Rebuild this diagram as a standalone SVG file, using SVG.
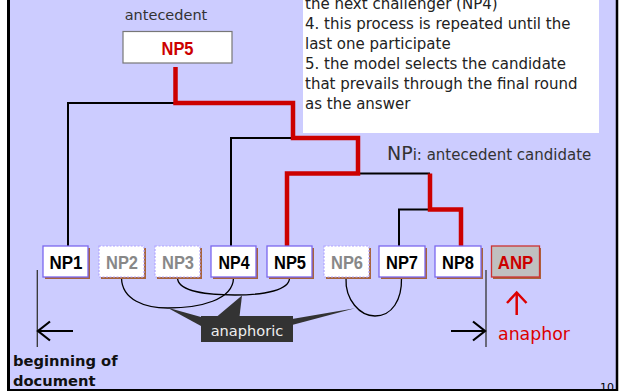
<svg xmlns="http://www.w3.org/2000/svg" width="625" height="391" viewBox="0 0 625 391">
<style>
.t{font-family:"DejaVu Sans",Verdana,sans-serif;}
.np{font-family:"Liberation Sans",Arial,sans-serif;font-size:18px;font-weight:bold;text-anchor:middle;}
.box{fill:#fff;stroke:#7b68ee;stroke-width:1.3;}
.gbox{fill:#fff;stroke:#b0a4ff;stroke-width:1.2;stroke-dasharray:2 1.5;}
.sh{fill:#a8643c;}
.blk{fill:none;stroke:#000;stroke-width:2;}
.red{fill:none;stroke:#cc0000;stroke-width:4.5;stroke-linejoin:miter;}
.arc{fill:none;stroke:#000;stroke-width:1.3;}
</style>
<rect x="0" y="0" width="625" height="391" fill="#fff"/>
<rect x="9" y="0" width="608" height="390" fill="#ccccff"/>
<line x1="8.5" y1="0" x2="8.5" y2="391" stroke="#000" stroke-width="3"/>
<line x1="617" y1="0" x2="617" y2="391" stroke="#000" stroke-width="2.5"/>
<line x1="7" y1="390" x2="618" y2="390" stroke="#000" stroke-width="2"/>

<g id="notes">
<rect x="303" y="-2" width="296" height="135" fill="#fff"/>
<text class="t" font-size="15" fill="#222">
<tspan x="305" y="9.3">the next challenger (NP4)</tspan>
<tspan x="305" y="29.3">4. this process is repeated until the</tspan>
<tspan x="305" y="49.3">last one participate</tspan>
<tspan x="305" y="69.3">5. the model selects the candidate</tspan>
<tspan x="305" y="89.3">that prevails through the final round</tspan>
<tspan x="305" y="109.3">as the answer</tspan>
</text>
</g>

<g id="antecedent">
<text class="t" x="166" y="20" font-size="14.5" fill="#333" text-anchor="middle">antecedent</text>
<rect x="123" y="31.5" width="109" height="31.5" fill="#fff" stroke="#777" stroke-width="1.2"/>
<text class="np" x="177.5" y="55" font-size="20" fill="#cc0000" textLength="32" lengthAdjust="spacingAndGlyphs">NP5</text>
</g>

<g id="legend">
<text class="t" x="387" y="160" fill="#333"><tspan font-size="19">NP</tspan><tspan font-size="15">i: antecedent candidate</tspan></text>
</g>

<g id="connectors">
<polyline class="blk" points="68,246 68,103 176,103"/>
<polyline class="blk" points="231,246 231,138 294,138"/>
<polyline class="blk" points="357,173.5 430,173.5"/>
<polyline class="blk" points="399,246 399,209.5 431,209.5"/>
<polyline class="red" points="175.5,67 175.5,103 293,103 293,138 358,138 358,173.5 287,173.5 287,246"/>
<polyline class="red" points="430,173.5 430,209.5 461,209.5 461,246"/>
<path class="arc" d="M121.5,278 C122,300 145,308 168,308 C200,308 233,300 233.5,278"/>
<path class="arc" d="M177.5,278 C178,292 210,295 235,295 C265,295 289.5,290 289.5,278"/>
<path class="arc" d="M346,278 C345,300 360,316 375,316 C392,316 402,300 401.5,278"/>
</g>

<g id="NP1"><rect class="sh" x="45" y="248" width="45" height="31"/><rect class="box" x="43" y="246" width="45" height="31"/><text class="np" x="66" y="269.3" fill="#000" textLength="33" lengthAdjust="spacingAndGlyphs">NP1</text></g>
<g id="NP2"><rect class="sh" x="101" y="248" width="45" height="31"/><rect class="gbox" x="99" y="246" width="45" height="31"/><text class="np" x="122" y="269.3" fill="#888" font-weight="normal" textLength="32" lengthAdjust="spacingAndGlyphs">NP2</text></g>
<g id="NP3"><rect class="sh" x="157" y="248" width="45" height="31"/><rect class="gbox" x="155" y="246" width="45" height="31"/><text class="np" x="178" y="269.3" fill="#888" font-weight="normal" textLength="32" lengthAdjust="spacingAndGlyphs">NP3</text></g>
<g id="NP4"><rect class="sh" x="213" y="248" width="45" height="31"/><rect class="box" x="211" y="246" width="45" height="31"/><text class="np" x="234" y="269.3" fill="#000" textLength="31" lengthAdjust="spacingAndGlyphs">NP4</text></g>
<g id="NP5"><rect class="sh" x="269" y="248" width="45" height="31"/><rect class="box" x="267" y="246" width="45" height="31"/><text class="np" x="290" y="269.3" fill="#000" textLength="32" lengthAdjust="spacingAndGlyphs">NP5</text></g>
<g id="NP6"><rect class="sh" x="326" y="248" width="45" height="31"/><rect class="gbox" x="324" y="246" width="45" height="31"/><text class="np" x="347" y="269.3" fill="#888" font-weight="normal" textLength="32" lengthAdjust="spacingAndGlyphs">NP6</text></g>
<g id="NP7"><rect class="sh" x="381" y="248" width="46" height="31"/><rect class="box" x="379" y="246" width="46" height="31"/><text class="np" x="402" y="269.3" fill="#000" textLength="32" lengthAdjust="spacingAndGlyphs">NP7</text></g>
<g id="NP8"><rect class="sh" x="437" y="248" width="46" height="31"/><rect class="box" x="435" y="246" width="46" height="31"/><text class="np" x="458" y="269.3" fill="#000" textLength="32" lengthAdjust="spacingAndGlyphs">NP8</text></g>
<g id="ANP"><rect class="sh" x="493" y="248" width="48" height="31"/><rect x="491.5" y="246" width="48" height="31" fill="#c0c0c0" stroke="#cc3333" stroke-width="1.3"/><text class="np" x="515.5" y="269.3" fill="#cc0000" textLength="35.5" lengthAdjust="spacingAndGlyphs">ANP</text></g>

<g id="anaphoric">
<polygon points="217,316.5 242,295.5 239.5,316.5" fill="#333"/>
<polygon points="167,307.5 201,317 201,326" fill="#333"/>
<polygon points="292,319 355,308.3 292,325" fill="#333"/>
<rect x="201" y="316" width="92" height="26" fill="#333"/>
<text class="t" x="247" y="336" font-size="14.6" fill="#eee" text-anchor="middle">anaphoric</text>
</g>

<g id="begin">
<line x1="37.3" y1="270" x2="37.3" y2="347" stroke="#333" stroke-width="1.3"/>
<line x1="38" y1="331" x2="73" y2="331" stroke="#000" stroke-width="2.2"/>
<polyline points="50,321.5 38,331 50,340.5" fill="none" stroke="#000" stroke-width="2.2"/>
<text class="t" font-size="14.7" font-weight="bold" fill="#111"><tspan x="13" y="366">beginning of</tspan><tspan x="13" y="386">document</tspan></text>
</g>

<g id="end">
<line x1="486" y1="270" x2="486" y2="347" stroke="#333" stroke-width="1.3"/>
<line x1="451" y1="331" x2="485" y2="331" stroke="#000" stroke-width="2.2"/>
<polyline points="473,321.5 485,331 473,340.5" fill="none" stroke="#000" stroke-width="2.2"/>
</g>

<g id="anaphor">
<line x1="516.7" y1="293" x2="516.7" y2="315" stroke="#dd0000" stroke-width="2.5"/>
<polyline points="507,303 516.7,292.5 526.5,303" fill="none" stroke="#dd0000" stroke-width="2.5"/>
<text class="t" x="498" y="340" font-size="18" fill="#dd0000" textLength="72" lengthAdjust="spacingAndGlyphs">anaphor</text>
</g>

<text class="t" x="600" y="391" font-size="11" fill="#000">10</text>
</svg>
